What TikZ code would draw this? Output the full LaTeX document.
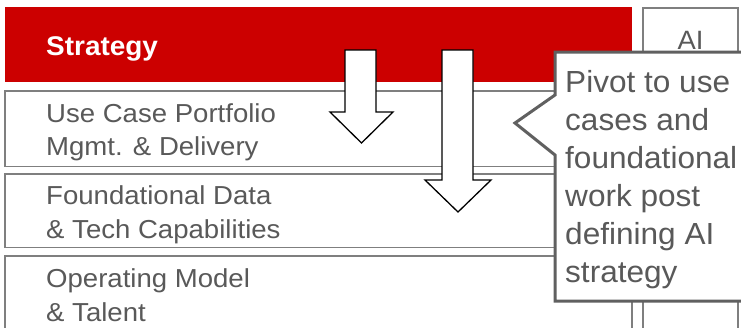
\documentclass[tikz,border=0pt]{standalone}
\usepackage{fontspec}
\setmainfont[FakeStretch=1.035]{Liberation Sans}
\newfontfamily\boxfont[FakeStretch=1.06]{Liberation Sans}
\definecolor{brandred}{HTML}{CC0000}
\definecolor{txtgray}{HTML}{595959}
\definecolor{linegray}{HTML}{7F7F7F}
\definecolor{calloutgray}{HTML}{606060}
\begin{document}
\begin{tikzpicture}[x=1pt,y=-1pt,
  layerbox/.style={draw=linegray, line width=1.5pt, fill=white, anchor=north west, inner sep=0pt, outer sep=0pt},
  boxtext/.style={anchor=base west, align=left, inner sep=0pt, text=txtgray, font=\boxfont\fontsize{26}{33.5}\selectfont},
  blockarrow/.style={draw=black, line width=1.3pt, fill=white, line join=miter},
  callout/.style={draw=calloutgray, line width=3pt, fill=white, line join=miter}]
\useasboundingbox (0,0) rectangle (741,327);
\clip (0,0) rectangle (741,327);
% layer boxes
\node[layerbox, fill=brandred, draw=none, minimum width=627pt, minimum height=75pt] (strat) at (5,7) {};
\node[layerbox, minimum width=627pt, minimum height=75.5pt] (uc) at (5,91) {};
\node[layerbox, minimum width=627pt, minimum height=73.5pt] (fd) at (5,174) {};
\node[layerbox, minimum width=627pt, minimum height=95pt] (om) at (5,256) {};
\node[layerbox, minimum width=95pt, minimum height=340pt] (ai) at (643,8) {};
% texts
\node[anchor=base west, inner sep=0pt, text=white, font=\fontsize{27}{32}\selectfont\bfseries] (strattxt) at (46,55) {Strategy};
\node[boxtext] (uctxt) at (46,155.5) {Use Case Portfolio\\Mgmt. \& Delivery};
\node[boxtext] (fdtxt) at (46,238) {Foundational Data\\\& Tech Capabilities};
\node[boxtext] (omtxt) at (46,321) {Operating Model\\\& Talent};
\node[anchor=base, inner sep=0pt, text=txtgray, font=\fontsize{26.5}{30}\selectfont] (aitxt) at (690.5,49) {AI};
% block arrows
\draw[blockarrow] (345,50) -- (376,50) -- (376,112) -- (393,112) -- (361.5,143) -- (330,112) -- (345,112) -- cycle;
\draw[blockarrow] (442,50) -- (473,50) -- (473,180) -- (491,180) -- (458,212) -- (425,180) -- (442,180) -- cycle;
% callout
\coordinate (tip) at (515,123);
\draw[callout] (555,52) -- (760,52) -- (760,301) -- (555,301) -- (555,155) -- (tip) -- (555,95) -- cycle;
\node[anchor=base west, align=left, inner sep=0pt, text=txtgray, font=\fontsize{30.5}{38}\selectfont] (pivot) at (565,282) {Pivot to use\\cases and\\foundational\\work post\\defining AI\\strategy};
\end{tikzpicture}
\end{document}
